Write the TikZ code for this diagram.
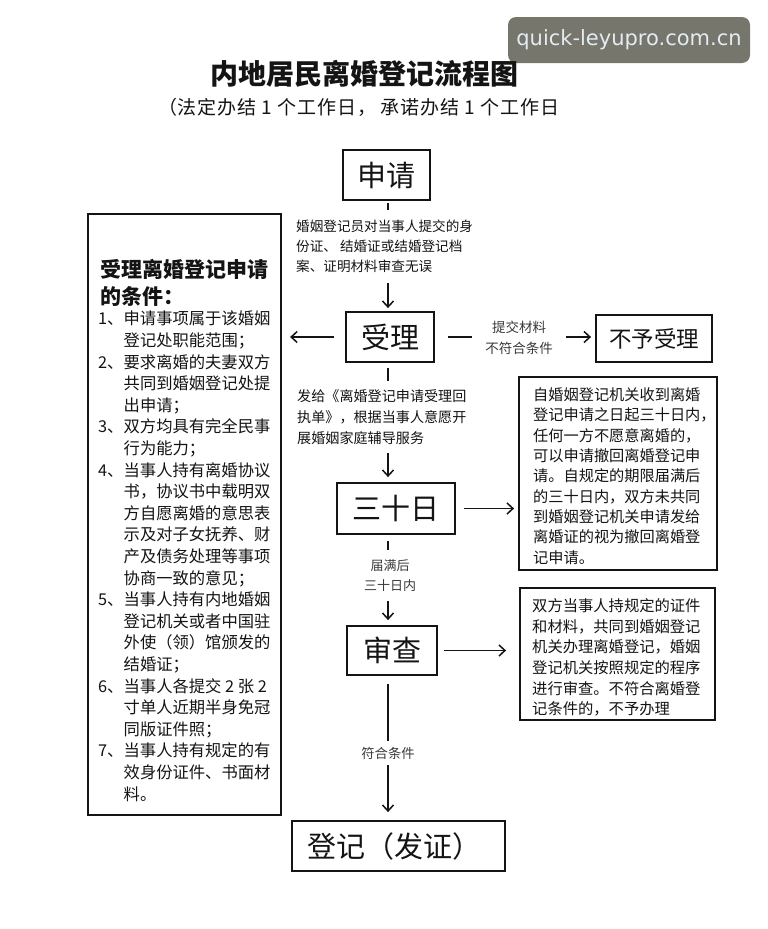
\documentclass[tikz,border=0pt]{standalone}
\usepackage{fontspec}
\setmainfont{Noto Sans CJK SC}
\newfontfamily\wmfont{DejaVu Sans}
\usetikzlibrary{arrows.meta}
\definecolor{ink}{HTML}{141414}
\definecolor{lbl}{HTML}{3A3A3A}
\definecolor{wmbg}{HTML}{76766C}
\definecolor{wmtx}{HTML}{E2ECF2}
\newcommand{\fsz}[2]{\fontsize{#1}{#2}\selectfont}
\newcommand{\lbnum}[1]{\makebox[25.5pt][l]{#1}}
\newcommand{\lbind}{\hspace*{25.5pt}}
\newcommand{\sbx}[2][c]{\makebox[20pt][#1]{#2}}
\newcommand{\sone}{\makebox[20pt]{1}}
\begin{document}
\begin{tikzpicture}[x=1pt,y=-1pt,
  box/.style={draw=ink, line width=1.8pt, rectangle, inner sep=0pt, text=ink},
  bigbox/.style={box, font=\fsz{29}{29}},
  arr/.style={draw=ink, line width=1.5pt, -{Straight Barb[length=6pt,width=11pt]}},
  cover/.style={fill=white, inner sep=0pt, text=ink},
  para/.style={inner sep=0pt, align=left, text=ink, anchor=north west},
  wm/.style={fill=wmbg, rounded corners=8pt, text=wmtx, font=\wmfont\fsz{21}{21}, minimum width=242pt, minimum height=46pt, inner sep=0pt}
]
\path[use as bounding box, fill=white] (0,0) rectangle (768,929);

\node[wm] (wm) at (629,40) {quick-leyupro.com.cn};
\node[font=\bfseries\fsz{28}{28}, text=ink, inner sep=0pt] (title) at (364,74) {内地居民离婚登记流程图};
\node[font=\fsz{19}{19}, anchor=west, inner sep=0pt, text=ink] (sub) at (157,107) {\sbx[r]{（}\sbx{法}\sbx{定}\sbx{办}\sbx{结}\sone\sbx{个}\sbx{工}\sbx{作}\sbx{日}\makebox[23pt][l]{，}\sbx{承}\sbx{诺}\sbx{办}\sbx{结}\sone\sbx{个}\sbx{工}\sbx{作}\sbx{日}};

% boxes
\node[bigbox, minimum width=87pt, minimum height=50pt] (shen) at (386.5,175) {申请};
\node[bigbox, minimum width=88pt, minimum height=50pt] (shouli) at (390,337) {受理};
\node[box, font=\fsz{22.5}{22.5}, minimum width=116pt, minimum height=47pt] (buyu) at (654,338.5) {不予受理};
\node[box, line width=2.2pt, minimum width=193pt, minimum height=601pt] (left) at (184.5,514.5) {};
\node[bigbox, minimum width=118pt, minimum height=51pt] (sanshi) at (396,508.5) {三十日};
\node[box, minimum width=198pt, minimum height=193pt] (box1) at (618,473.5) {};
\node[bigbox, minimum width=90pt, minimum height=49pt] (shencha) at (392,650.5) {审查};
\node[box, minimum width=195pt, minimum height=132pt] (box2) at (617.5,654) {};
\node[bigbox, text width=183pt, align=left, inner xsep=15pt, minimum height=50pt] (dengji) at (398.5,846) {登记（发证）};

% connectors
\coordinate (sp) at (388,0);
\draw[arr, shorten <=2pt, shorten >=3pt] (shen.south -| sp) -- (shouli.north -| sp);
\draw[arr, shorten <=5pt, shorten >=5pt] (shouli.south -| sp) -- (sanshi.north -| sp);
\draw[arr, shorten <=6pt, shorten >=5pt] (sanshi.south -| sp) -- (shencha.north -| sp);
\draw[arr, shorten <=8pt, shorten >=8pt] (shencha.south -| sp) -- (dengji.north -| sp);
\draw[arr, shorten <=11pt, shorten >=8pt] (shouli.west) -- (shouli.west -| left.east);
\draw[arr, shorten <=13pt, shorten >=4pt] (shouli.east) -- (shouli.east -| buyu.west);
\draw[arr, shorten <=8pt, shorten >=4pt] (sanshi.east) -- (sanshi.east -| box1.west);
\draw[arr, shorten <=6pt, shorten >=13pt] (shencha.east) -- (shencha.east -| box2.west);

% connector labels (white, hiding the middle of the connectors)
\node[cover, align=left, anchor=west, font=\fsz{13.6}{20}, minimum height=73pt] (la) at (296,246.5) {婚姻登记员对当事人提交的身\\份证、\ 结婚证或结婚登记档\\案、证明材料审查无误};
\node[cover, align=left, anchor=west, font=\fsz{14.1}{20.7}, minimum height=72pt] (lb) at (297,417) {发给《离婚登记申请受理回\\执单》，根据当事人意愿开\\展婚姻家庭辅导服务};
\node[cover, align=center, text=lbl, font=\fsz{13}{20}, minimum height=51pt] (lc) at (390,575.5) {届满后\\三十日内};
\node[cover, align=center, text=lbl, font=\fsz{13.3}{13.3}, minimum height=24pt] (ld) at (388,753) {符合条件};
\node[cover, align=center, text=lbl, font=\fsz{13.5}{21}, minimum width=94pt, minimum height=44pt] (le) at (519,337.5) {提交材料\\不符合条件};

% box texts
\node[para, font=\fsz{15.2}{20.3}] (t1) at (533,387.6) {自婚姻登记机关收到离婚\\登记申请之日起三十日内，\\任何一方不愿意离婚的，\\可以申请撤回离婚登记申\\请。自规定的期限届满后\\的三十日内，双方未共同\\到婚姻登记机关申请发给\\离婚证的视为撤回离婚登\\记申请。};
\node[para, font=\fsz{15.3}{20.6}] (t2) at (532,598.6) {双方当事人持规定的证件\\和材料，共同到婚姻登记\\机关办理离婚登记，婚姻\\登记机关按照规定的程序\\进行审查。不符合离婚登\\记条件的，不予办理};
\node[para, font=\bfseries\fsz{21}{27}] (lh) at (100,259.5) {受理离婚登记申请\\的条件：};
\node[para, font=\fsz{16.3}{21.6}] (li) at (98,311) {\lbnum{1、}申请事项属于该婚姻\\\lbind 登记处职能范围；\\\lbnum{2、}要求离婚的夫妻双方\\\lbind 共同到婚姻登记处提\\\lbind 出申请；\\\lbnum{3、}双方均具有完全民事\\\lbind 行为能力；\\\lbnum{4、}当事人持有离婚协议\\\lbind 书，协议书中载明双\\\lbind 方自愿离婚的意思表\\\lbind 示及对子女抚养、财\\\lbind 产及债务处理等事项\\\lbind 协商一致的意见；\\\lbnum{5、}当事人持有内地婚姻\\\lbind 登记机关或者中国驻\\\lbind 外使（领）馆颁发的\\\lbind 结婚证；\\\lbnum{6、}当事人各提交 2 张 2\\\lbind 寸单人近期半身免冠\\\lbind 同版证件照；\\\lbnum{7、}当事人持有规定的有\\\lbind 效身份证件、书面材\\\lbind 料。};
\end{tikzpicture}
\end{document}
